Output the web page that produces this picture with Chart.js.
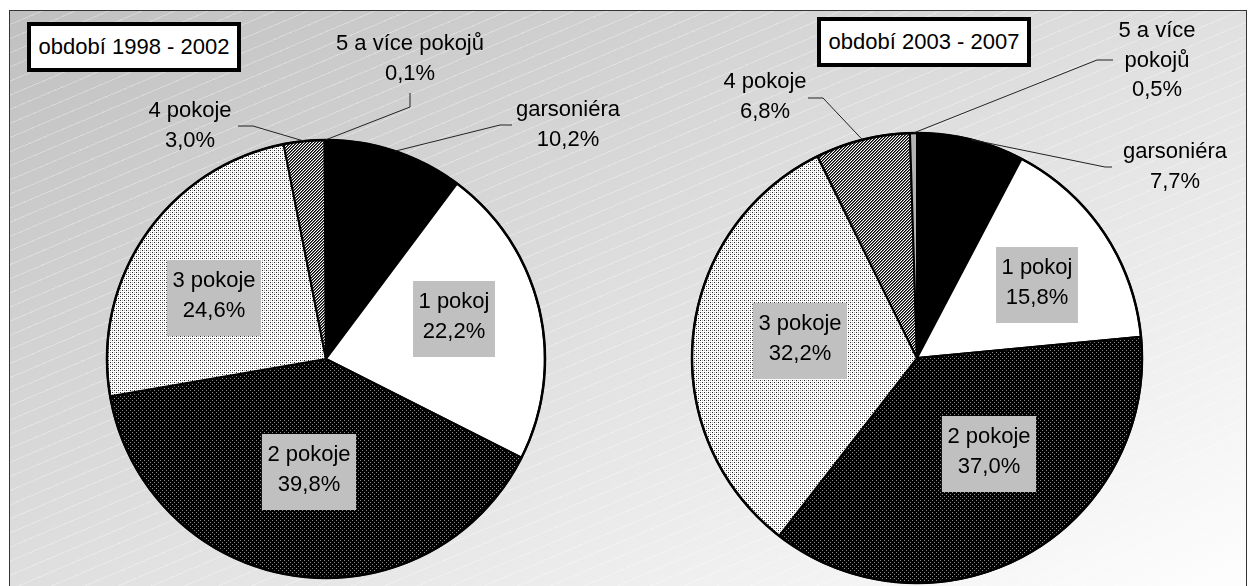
<!DOCTYPE html>
<html>
<head>
<meta charset="utf-8">
<script src="https://cdn.jsdelivr.net/npm/chart.js@4/dist/chart.umd.min.js"></script>
<style>
  html, body { margin: 0; padding: 0; background: #fff; }
  body { width: 1248px; height: 586px; position: relative; overflow: hidden; font-family: "Liberation Sans", Arial, sans-serif; }
  #frame {
    position: absolute; left: 9px; top: 10px; width: 1236px; height: 600px;
    border: 1px solid #333;
    background:
      repeating-linear-gradient(157deg, rgba(255,255,255,0) 0px, rgba(255,255,255,0) 12px, rgba(255,255,255,0.3) 12px, rgba(255,255,255,0.3) 13px),
      linear-gradient(to bottom right, #c0c0c0 0%, #e0e0e0 50%, #ffffff 100%);
  }
  .title {
    position: absolute; box-sizing: border-box; background: #fff; border: 4px solid #000;
    font-size: 22px; line-height: 42px; text-align: center; color: #000;
  }
  canvas { position: absolute; top: 0; }
</style>
</head>
<body>
<div id="frame"></div>
<div class="title" id="title1" style="left:27px; top:22px; width:214px; height:50px;"></div>
<div class="title" id="title2" style="left:817px; top:17px; width:214px; height:50px;"></div>
<canvas id="pie1" width="640" height="586" style="left:0px;"></canvas>
<canvas id="pie2" width="608" height="586" style="left:640px;"></canvas>
<script>
const categories = ['garsoniéra', '1 pokoj', '2 pokoje', '3 pokoje', '4 pokoje', '5 a více pokojů'];
const values1998 = [10.2, 22.2, 39.8, 24.6, 3.0, 0.1];
const values2003 = [7.7, 15.8, 37.0, 32.2, 6.8, 0.5];
const periodTitles = ['období 1998 - 2002', 'období 2003 - 2007'];

document.getElementById('title1').textContent = periodTitles[0];
document.getElementById('title2').textContent = periodTitles[1];

const FONT = '22px "Liberation Sans", Arial, sans-serif';


function makePattern(size, bg, dots) {
    const c = document.createElement('canvas');
    c.width = size;
    c.height = size;
    const g = c.getContext('2d');
    g.fillStyle = bg;
    g.fillRect(0, 0, size, size);
    dots.forEach(d => {
        g.fillStyle = d[2];
        g.fillRect(d[0], d[1], 1, 1);
    });
    return g.createPattern(c, 'repeat');
}

// fine "///" hatch, 3px period
const hatchDots = [];
for (let x = 0; x < 3; x++) {
    for (let y = 0; y < 3; y++) {
        if ((x + y) % 3 === 0) hatchDots.push([x, y, '#000']);
        if ((x + y) % 3 === 1) hatchDots.push([x, y, '#606060']);
    }
}

const sliceFills = [
    '#000000',
    '#ffffff',
    makePattern(4, '#000000', [[0, 0, '#8c8c8c'], [2, 2, '#8c8c8c']]),
    makePattern(4, '#ffffff', [[0, 0, '#222'], [2, 2, '#222'], [2, 0, '#b0b0b0'], [0, 2, '#b0b0b0']]),
    makePattern(3, '#ffffff', hatchDots),
    '#b4b4b4'
];

function fmt(v) {
    return v.toFixed(1).replace('.', ',') + '%';
}

// label placement (page coordinates): x = centre, y = first baseline
const layout1998 = [
    { x: 568, y: 116, leader: [[500, 125], [512, 125]] },
    { x: 454, y: 308, box: true },
    { x: 309, y: 461, box: true },
    { x: 214, y: 287, box: true },
    { x: 190, y: 117, leader: [[253, 126], [238, 126]] },
    { x: 410, y: 50, leader: [[410, 107], [410, 93]] }
];

const layout2003 = [
    { x: 1175, y: 158, leader: [[1105, 167], [1112, 167]] },
    { x: 1037, y: 274, box: true },
    { x: 989, y: 443, box: true },
    { x: 800, y: 330, box: true },
    { x: 765, y: 88, leader: [[823, 98], [808, 98]] },
    { x: 1157, y: 37, wrap: 3, leader: [[1097, 60], [1113, 60]] }
];

const sliceLabels = {
    id: 'sliceLabels',
    afterDatasetsDraw(chart, args, opts) {
        const ctx = chart.ctx;
        const meta = chart.getDatasetMeta(0);
        const values = chart.data.datasets[0].data;
        const ox = opts.offsetX;

        ctx.save();
        // thicker outline round the pie
        const a0 = meta.data[0];
        ctx.beginPath();
        ctx.arc(a0.x, a0.y, a0.outerRadius, 0, Math.PI * 2);
        ctx.lineWidth = 2.5;
        ctx.strokeStyle = '#000';
        ctx.stroke();

        ctx.font = FONT;
        ctx.textAlign = 'center';
        ctx.textBaseline = 'alphabetic';

        opts.layout.forEach((lab, i) => {
            const arc = meta.data[i];
            let lines = [chart.data.labels[i]];
            if (lab.wrap) {
                const words = chart.data.labels[i].split(' ');
                lines = [words.slice(0, lab.wrap).join(' '), words.slice(lab.wrap).join(' ')];
            }
            lines.push(fmt(values[i]));
            const lh = 29.5;

            if (lab.leader) {
                const mid = (arc.startAngle + arc.endAngle) / 2;
                ctx.beginPath();
                ctx.moveTo(arc.x + Math.cos(mid) * arc.outerRadius, arc.y + Math.sin(mid) * arc.outerRadius);
                lab.leader.forEach(p => ctx.lineTo(p[0] - ox, p[1]));
                ctx.lineWidth = 1;
                ctx.strokeStyle = '#222';
                ctx.stroke();
            }

            if (lab.box) {
                let w = 0;
                lines.forEach(t => { w = Math.max(w, ctx.measureText(t).width); });
                w += 11;
                const h = 76;
                const top = lab.y - 27;
                ctx.fillStyle = '#c0c0c0';
                ctx.fillRect(lab.x - ox - w / 2, top, w, h);
            }

            ctx.fillStyle = '#000';
            lines.forEach((t, k) => {
                ctx.fillText(t, lab.x - ox, lab.y + k * lh);
            });
        });
        ctx.restore();
    }
};


function makePie(id, values, layout, offsetX, padding) {
    return new Chart(document.getElementById(id), {
        type: 'pie',
        data: {
            labels: categories,
            datasets: [{
                data: values,
                backgroundColor: sliceFills,
                borderColor: '#000',
                borderWidth: 2
            }]
        },
        options: {
            responsive: false,
            animation: false,
            layout: { padding: padding },
            plugins: {
                legend: { display: false },
                tooltip: { enabled: false },
                sliceLabels: { layout: layout, offsetX: offsetX }
            }
        },
        plugins: [sliceLabels]
    });
}

makePie('pie1', values1998, layout1998, 0, { left: 106, right: 94, top: 139, bottom: 7 });
makePie('pie2', values2003, layout2003, 640, { left: 51, right: 105, top: 132, bottom: 2 });
</script>
</body>
</html>
